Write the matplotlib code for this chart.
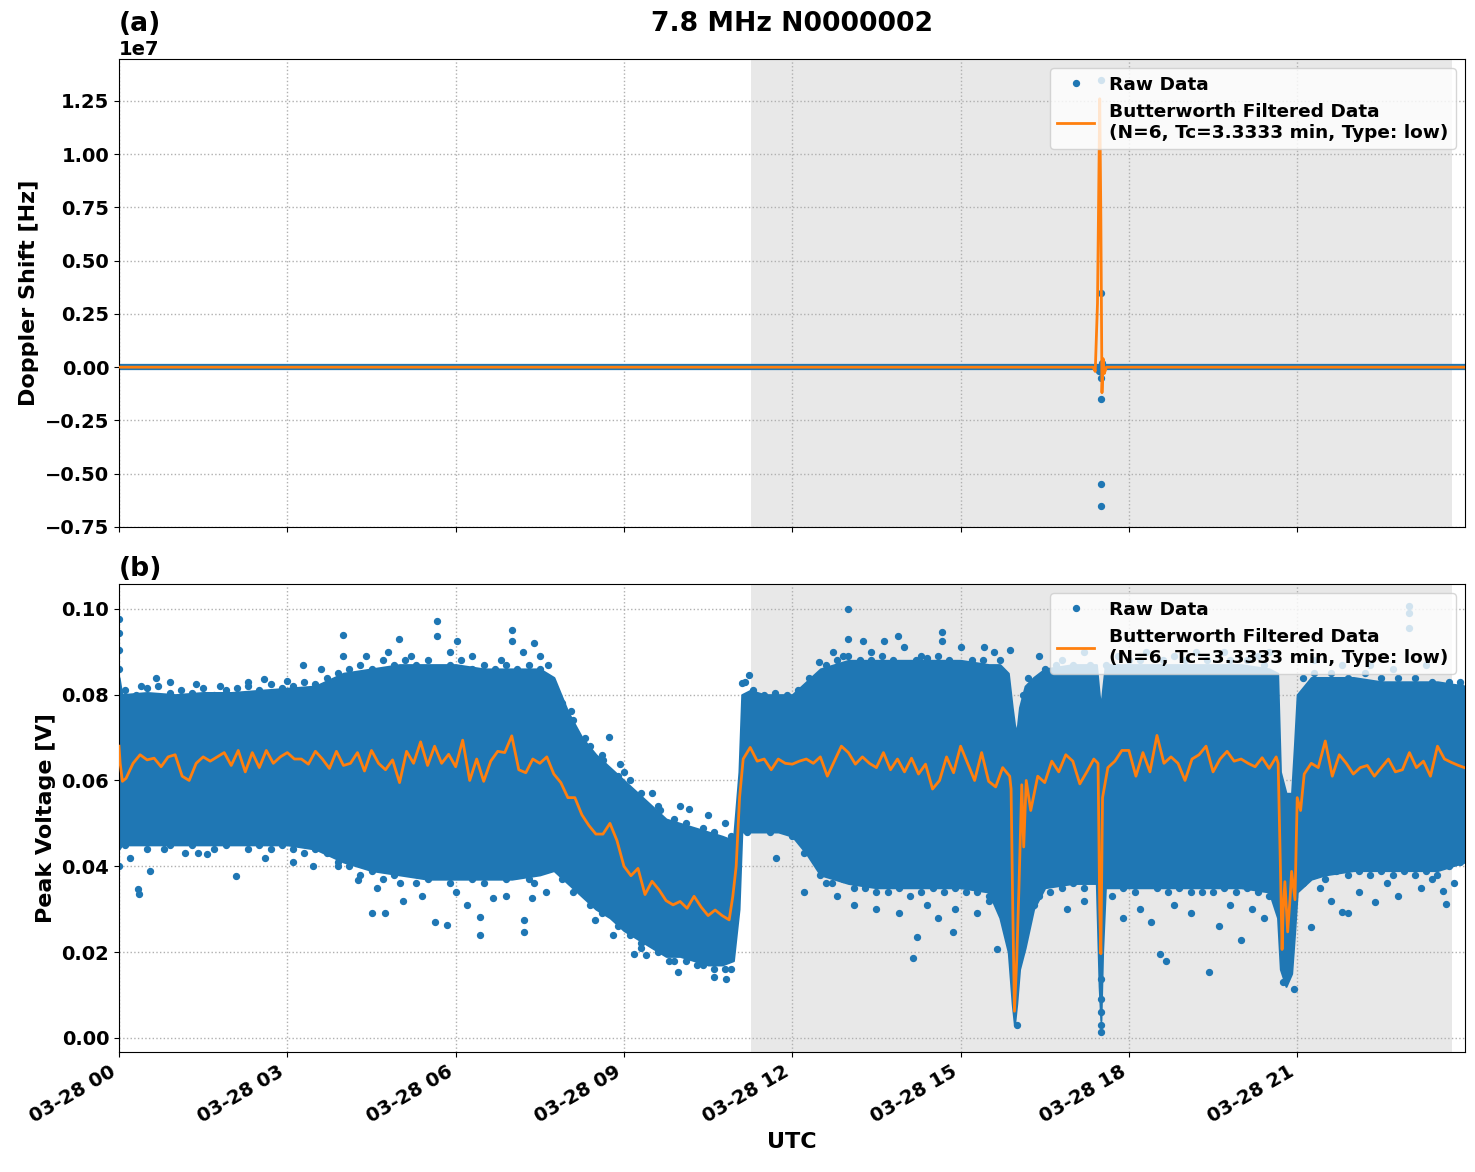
import numpy as np
import pandas as pd
import matplotlib
matplotlib.use('Agg')
import matplotlib.pyplot as plt
import matplotlib.dates as mdates

day = pd.Timestamp('2024-03-28 00:00')
t_end_h = 23.99
night_start_h = 11.27
night_end_h = 23.76

# ---- (a) Doppler shift ----
dop_base_h = [0.0, 23.99]
dop_base_v = [0.0, 0.0]
dop_raw_h = [17.47, 17.50, 17.50, 17.50, 17.50, 17.50, 17.50, 17.52]
dop_raw_v = [-0.02e7, 1.35e7, 0.35e7, -0.05e7, -0.15e7, -0.55e7, -0.65e7, 0.02e7]
dop_filt_h = [0.0, 17.36, 17.40, 17.44, 17.48, 17.50, 17.52, 17.54, 17.56, 17.60, 23.99]
dop_filt_v = [0.0, 0.0, -0.02e7, 0.30e7, 1.26e7, 0.70e7, -0.12e7, 0.04e7, -0.03e7, 0.0, 0.0]

# ---- (b) Peak voltage: dense raw cloud (envelope) ----
band_h = [0.0, 0.05, 0.5, 1.0, 1.5, 2.0, 2.5, 3.0, 3.5, 4.0, 4.5, 5.0, 5.5, 6.0, 6.5, 7.0,
          7.5, 7.75, 8.0, 8.25, 8.5, 8.75, 9.0, 9.25, 9.5, 9.75, 10.0, 10.25, 10.5, 10.75,
          10.95, 11.05, 11.1, 11.25, 11.5, 11.75, 12.0, 12.25, 12.5, 13.0, 13.5, 14.0, 14.5,
          15.0, 15.5, 15.7, 15.85, 15.92, 15.96, 16.0, 16.05, 16.15, 16.3, 16.5, 17.0, 17.42,
          17.47, 17.5, 17.53, 17.58, 18.0, 18.5, 19.0, 19.5, 20.0, 20.5, 20.65, 20.7, 20.8,
          20.9, 20.95, 21.0, 21.25, 21.5, 22.0, 22.5, 23.0, 23.5, 23.99]
band_lo = [0.044, 0.045, 0.045, 0.045, 0.045, 0.045, 0.045, 0.045, 0.044, 0.041, 0.039, 0.038,
           0.037, 0.037, 0.037, 0.037, 0.038, 0.039, 0.036, 0.033, 0.030, 0.028, 0.025, 0.023,
           0.021, 0.019, 0.019, 0.018, 0.017, 0.017, 0.018, 0.030, 0.048, 0.048, 0.048, 0.048,
           0.047, 0.043, 0.038, 0.036, 0.035, 0.035, 0.035, 0.035, 0.034, 0.028, 0.020, 0.008,
           0.003, 0.008, 0.016, 0.021, 0.030, 0.035, 0.036, 0.036, 0.012, 0.004, 0.020, 0.035,
           0.035, 0.035, 0.035, 0.035, 0.035, 0.034, 0.028, 0.016, 0.012, 0.015, 0.024, 0.034,
           0.037, 0.038, 0.039, 0.039, 0.039, 0.039, 0.041]
band_hi = [0.084, 0.080, 0.0805, 0.080, 0.0805, 0.0805, 0.081, 0.0815, 0.082, 0.085, 0.086,
           0.087, 0.087, 0.087, 0.086, 0.086, 0.086, 0.084, 0.076, 0.070, 0.066, 0.063, 0.060,
           0.057, 0.054, 0.051, 0.050, 0.049, 0.048, 0.047, 0.046, 0.062, 0.080, 0.081, 0.080,
           0.080, 0.080, 0.083, 0.086, 0.088, 0.088, 0.088, 0.088, 0.088, 0.087, 0.087, 0.085,
           0.077, 0.073, 0.071, 0.077, 0.082, 0.084, 0.086, 0.087, 0.087, 0.080, 0.077, 0.081,
           0.087, 0.087, 0.087, 0.087, 0.087, 0.087, 0.086, 0.085, 0.062, 0.057, 0.057, 0.068,
           0.080, 0.084, 0.084, 0.084, 0.083, 0.083, 0.083, 0.082]

# raw points along the ragged edges of the cloud
edge_h = [0.1, 0.3, 0.5, 0.7, 0.9, 1.1, 1.3, 1.5, 1.7, 1.9, 2.1, 2.3, 2.5, 2.7, 2.9, 3.1, 3.3,
          3.5, 3.7, 3.9, 4.1, 4.3, 4.5, 4.7, 4.9, 5.1, 5.3, 5.5, 5.7, 5.9, 6.1, 6.3, 6.5, 6.7,
          6.9, 7.1, 7.3, 7.5, 7.65, 7.9, 8.1, 8.4, 8.6, 8.9, 9.1, 9.3, 9.6, 9.9, 10.1, 10.4,
          10.6, 10.9, 11.15, 11.3, 11.5, 11.7, 11.9, 12.1, 12.3, 12.6, 12.8, 13.0, 13.2, 13.4,
          13.6, 13.8, 14.2, 14.4, 14.6, 14.8, 15.2, 15.4, 15.7, 16.2, 16.5, 16.7, 17.0, 17.3,
          17.6, 18.0, 18.2, 18.6, 19.0, 19.4, 19.8, 20.1, 20.4, 21.1, 21.3, 21.6, 21.9, 22.2,
          22.5, 22.8, 23.1, 23.4, 23.7, 23.9,
          0.1, 0.3, 0.5, 0.7, 0.9, 1.1, 1.3, 1.5, 1.7, 1.9, 2.1, 2.3, 2.5, 2.7, 2.9, 3.1, 3.3,
          3.5, 3.7, 3.9, 4.1, 4.3, 4.5, 4.7, 4.9, 5.1, 5.3, 5.5, 5.7, 5.9, 6.1, 6.3, 6.5, 6.7,
          6.9, 7.1, 7.3, 7.5, 7.65, 7.9, 8.1, 8.4, 8.6, 8.9, 9.1, 9.3, 9.6, 9.9, 10.1, 10.4,
          10.6, 10.8, 11.2, 11.4, 11.6, 11.8, 12.0, 12.2, 12.5, 12.7, 12.9, 13.1, 13.3, 13.5,
          13.7, 13.9, 14.1, 14.3, 14.5, 14.7, 14.9, 15.1, 15.3, 15.5, 16.4, 16.6, 16.8, 17.0,
          17.2, 17.7, 17.9, 18.1, 18.3, 18.5, 18.7, 18.9, 19.1, 19.3, 19.5, 19.7, 19.9, 20.1,
          20.3, 20.5, 21.1, 21.3, 21.5, 21.7, 21.9, 22.1, 22.3, 22.5, 22.7, 22.9, 23.1, 23.3,
          23.5, 23.7, 23.9]
edge_v = [0.081, 0.080, 0.0815, 0.082, 0.0805, 0.081, 0.0805, 0.0815, 0.080, 0.081, 0.0815,
          0.082, 0.081, 0.0825, 0.0815, 0.082, 0.083, 0.0825, 0.084, 0.085, 0.086, 0.087, 0.086,
          0.088, 0.087, 0.088, 0.087, 0.088, 0.086, 0.087, 0.088, 0.086, 0.087, 0.086, 0.087,
          0.086, 0.087, 0.086, 0.087, 0.078, 0.074, 0.068, 0.066, 0.061, 0.060, 0.057, 0.054,
          0.051, 0.050, 0.049, 0.048, 0.047, 0.083, 0.081, 0.080, 0.0805, 0.080, 0.081, 0.084,
          0.087, 0.088, 0.089, 0.088, 0.088, 0.089, 0.088, 0.088, 0.0885, 0.089, 0.088, 0.088,
          0.088, 0.088, 0.084, 0.086, 0.087, 0.087, 0.087, 0.087, 0.088, 0.088, 0.088, 0.088,
          0.088, 0.088, 0.088, 0.087, 0.084, 0.085, 0.085, 0.084, 0.085, 0.084, 0.084, 0.084,
          0.083, 0.083, 0.083,
          0.045, 0.046, 0.044, 0.046, 0.045, 0.046, 0.045, 0.046, 0.044, 0.045, 0.046, 0.044,
          0.045, 0.044, 0.045, 0.044, 0.043, 0.044, 0.043, 0.041, 0.040, 0.038, 0.039, 0.037,
          0.038, 0.039, 0.036, 0.037, 0.038, 0.036, 0.038, 0.037, 0.036, 0.038, 0.037, 0.038,
          0.037, 0.039, 0.040, 0.037, 0.034, 0.031, 0.029, 0.026, 0.024, 0.022, 0.020, 0.018,
          0.018, 0.017, 0.016, 0.016, 0.048, 0.049, 0.048, 0.049, 0.047, 0.043, 0.038, 0.036,
          0.037, 0.035, 0.036, 0.034, 0.036, 0.035, 0.036, 0.034, 0.035, 0.034, 0.035, 0.036,
          0.034, 0.033, 0.033, 0.036, 0.035, 0.036, 0.035, 0.036, 0.035, 0.034, 0.036, 0.035,
          0.034, 0.035, 0.034, 0.036, 0.034, 0.035, 0.034, 0.035, 0.034, 0.033, 0.036, 0.038,
          0.037, 0.039, 0.038, 0.039, 0.038, 0.039, 0.038, 0.039, 0.038, 0.039, 0.038, 0.040,
          0.041]

# scattered raw points outside the dense cloud
out_h = [0.0, 0.0, 0.0, 0.0, 0.0, 0.34, 0.36, 0.55, 0.65, 1.17, 1.38, 1.57, 2.08, 2.59, 3.0,
         3.28, 3.46, 4.0, 4.0, 4.26, 4.51, 4.74, 4.99, 5.07, 5.67, 5.67, 5.64, 5.85, 6.03,
         6.44, 6.44, 6.66, 7.0, 7.0, 7.22, 7.22, 7.36, 7.39, 7.61, 8.05, 8.23, 8.49, 8.73,
         8.63, 8.93, 9.17, 9.4, 9.64, 9.96, 10.16, 10.6, 10.82, 11.11, 11.23, 11.71,
         12.99, 12.99, 12.2, 12.47, 12.73, 13.26, 13.63, 13.88, 14.16, 14.23, 14.67, 14.67,
         14.86, 15.42, 15.64, 15.88, 16.12, 16.0, 17.5, 17.5, 17.5, 17.5, 17.5, 18.56,
         18.67, 19.42, 19.99, 20.74, 20.94, 21.24, 21.8, 21.9, 22.39, 22.99, 22.99, 22.99,
         23.6, 23.65, 23.95, 23.91,
         12.6, 12.8, 13.1, 13.3, 13.5, 13.7, 13.9, 14.1, 14.4, 14.6, 14.9, 15.1, 15.3, 15.5,
         16.3, 16.6, 16.9, 17.2, 17.7, 17.9, 18.2, 18.4, 18.8, 19.1, 19.3, 19.6, 19.8, 20.2,
         20.4, 21.4, 21.6, 22.1, 22.6, 22.8, 23.2, 23.4, 23.8,
         12.9, 13.4, 14.0, 14.3, 15.0, 15.6, 16.4, 16.8, 17.2, 17.8, 18.3, 18.8, 19.2, 19.7,
         20.3, 20.5, 21.3, 21.8, 22.3, 22.7, 23.3,
         0.4, 0.9, 1.8, 2.3, 3.6, 4.4, 4.8, 5.2, 5.9, 6.3, 6.8, 7.2, 7.5,
         0.2, 0.8, 1.4, 2.6, 3.1, 3.9, 4.6, 5.0, 5.4, 6.0, 6.2, 6.9, 7.4,
         8.8, 9.3, 9.8, 10.3, 10.9, 8.3, 9.0, 9.5, 10.0, 10.5, 10.8]
out_v = [0.0977, 0.0944, 0.0905, 0.086, 0.040, 0.0347, 0.0336, 0.0388, 0.084, 0.0431, 0.0826,
         0.0429, 0.0378, 0.0837, 0.0833, 0.087, 0.040, 0.094, 0.089, 0.0367, 0.0291, 0.0291,
         0.0929, 0.0318, 0.0972, 0.0936, 0.027, 0.0262, 0.0925, 0.0239, 0.0281, 0.0326, 0.095,
         0.0925, 0.0247, 0.0274, 0.0326, 0.092, 0.034, 0.0762, 0.0359, 0.0274, 0.0702, 0.0648,
         0.0638, 0.0196, 0.0192, 0.053, 0.0153, 0.0533, 0.0142, 0.0138, 0.0828, 0.0847, 0.042,
         0.100, 0.0929, 0.034, 0.0876, 0.090, 0.0925, 0.0926, 0.0936, 0.0187, 0.0235, 0.0946,
         0.0925, 0.0247, 0.0912, 0.0208, 0.0905, 0.080, 0.003, 0.0014, 0.003, 0.006, 0.009,
         0.0138, 0.0196, 0.018, 0.0153, 0.0227, 0.013, 0.0115, 0.0258, 0.0293, 0.029, 0.0316,
         0.1006, 0.099, 0.0956, 0.0343, 0.0312, 0.0479, 0.082,
         0.036, 0.033, 0.031, 0.035, 0.030, 0.034, 0.029, 0.033, 0.031, 0.028, 0.030, 0.034,
         0.029, 0.032, 0.031, 0.034, 0.030, 0.032, 0.033, 0.028, 0.030, 0.027, 0.031, 0.029,
         0.034, 0.026, 0.031, 0.030, 0.028, 0.035, 0.032, 0.034, 0.036, 0.033, 0.035, 0.037,
         0.036,
         0.089, 0.090, 0.091, 0.089, 0.091, 0.090, 0.089, 0.088, 0.090, 0.089, 0.090, 0.089,
         0.090, 0.090, 0.089, 0.090, 0.088, 0.087, 0.087, 0.086, 0.087,
         0.082, 0.083, 0.082, 0.083, 0.086, 0.089, 0.090, 0.089, 0.090, 0.089, 0.088, 0.090,
         0.089,
         0.042, 0.044, 0.043, 0.042, 0.041, 0.040, 0.035, 0.036, 0.033, 0.034, 0.031, 0.033,
         0.036,
         0.024, 0.021, 0.018, 0.017, 0.016, 0.070, 0.062, 0.057, 0.054, 0.052, 0.050]

# Butterworth filtered voltage, every 7.5 min from 00:00
filt_v = [0.0680, 0.0605, 0.0640, 0.0660, 0.0648, 0.0652, 0.0632, 0.0655,
          0.0660, 0.0610, 0.0600, 0.0640, 0.0655, 0.0645, 0.0655, 0.0665,
          0.0635, 0.0670, 0.0620, 0.0665, 0.0630, 0.0670, 0.0640, 0.0655,
          0.0665, 0.0650, 0.0650, 0.0638, 0.0668, 0.0650, 0.0628, 0.0668,
          0.0635, 0.0640, 0.0665, 0.0622, 0.0670, 0.0640, 0.0625, 0.0648,
          0.0595, 0.0668, 0.0640, 0.0690, 0.0635, 0.0680, 0.0640, 0.0661,
          0.0632, 0.0694, 0.0600, 0.0650, 0.0598, 0.0645, 0.0668, 0.0665,
          0.0704, 0.0625, 0.0618, 0.0650, 0.0640, 0.0655, 0.0615, 0.0595,
          0.0560, 0.0560, 0.0520, 0.0495, 0.0475, 0.0475, 0.0500, 0.0460,
          0.0400, 0.0378, 0.0395, 0.0334, 0.0365, 0.0345, 0.0320, 0.0310,
          0.0318, 0.0302, 0.0330, 0.0305, 0.0285, 0.0298, 0.0285, 0.0275,
          0.0400, 0.0650, 0.0677, 0.0645, 0.0650, 0.0625, 0.0650, 0.0640,
          0.0638, 0.0645, 0.0650, 0.0640, 0.0655, 0.0610, 0.0645, 0.0680,
          0.0665, 0.0638, 0.0655, 0.0640, 0.0630, 0.0665, 0.0625, 0.0650,
          0.0620, 0.0652, 0.0615, 0.0638, 0.0580, 0.0600, 0.0655, 0.0618,
          0.0680, 0.0640, 0.0600, 0.0665, 0.0598, 0.0585, 0.0630, 0.0610,
          0.0180, 0.0445, 0.0530, 0.0610, 0.0595, 0.0645, 0.0620, 0.0660,
          0.0645, 0.0592, 0.0620, 0.0650, 0.0196, 0.0630, 0.0645, 0.0670,
          0.0670, 0.0610, 0.0665, 0.0620, 0.0705, 0.0640, 0.0655, 0.0640,
          0.0600, 0.0650, 0.0660, 0.0680, 0.0620, 0.0650, 0.0668, 0.0645,
          0.0650, 0.0640, 0.0632, 0.0653, 0.0628, 0.0655, 0.0300, 0.0330,
          0.0560, 0.0615, 0.0640, 0.0630, 0.0692, 0.0610, 0.0660, 0.0640,
          0.0615, 0.0630, 0.0635, 0.0610, 0.0630, 0.0650, 0.0620, 0.0625,
          0.0665, 0.0630, 0.0645, 0.0610, 0.0680, 0.0650, 0.0642, 0.0635]
# extra filtered samples around the sharp dips
filt_extra_h = [0.02, 0.06, 10.94, 11.06, 15.90, 15.93, 15.96, 16.04, 16.09, 16.17, 17.45,
                17.48, 17.53, 20.66, 20.70, 20.73, 20.78, 20.83, 20.90, 20.96, 21.06, 23.98]
filt_extra_v = [0.0640, 0.0598, 0.0330, 0.0560, 0.0580, 0.0300, 0.0062, 0.0350, 0.0590,
                0.0600, 0.0640, 0.0300, 0.0560, 0.0640, 0.0400, 0.0206, 0.0364, 0.0247,
                0.0388, 0.0322, 0.0530, 0.0630]


def to_time(hours):
    return day + pd.to_timedelta(np.asarray(hours, dtype=float), unit='h')


filt_h = np.concatenate([np.arange(len(filt_v)) * 0.125, filt_extra_h])
filt_all = np.concatenate([filt_v, filt_extra_v])
order = np.argsort(filt_h)
filt_h = filt_h[order]
filt_all = filt_all[order]

plt.rcParams['font.weight'] = 'bold'
plt.rcParams['axes.labelweight'] = 'bold'
plt.rcParams['axes.titleweight'] = 'bold'
plt.rcParams['font.size'] = 16
plt.rcParams['xtick.labelsize'] = 14
plt.rcParams['ytick.labelsize'] = 14

raw_label = 'Raw Data'
filt_label = 'Butterworth Filtered Data\n(N=6, Tc=3.3333 min, Type: low)'
blue = '#1f77b4'
orange = '#ff7f0e'

fig, (ax1, ax2) = plt.subplots(2, 1, sharex=True, figsize=(14.75, 11.72), dpi=100)
fig.subplots_adjust(left=0.0807, right=0.9932, top=0.9497, bottom=0.1024, hspace=0.122)

for ax in (ax1, ax2):
    ax.axvspan(to_time([night_start_h])[0], to_time([night_end_h])[0],
               color='0.5', alpha=0.18, lw=0, zorder=0)
    ax.grid(True, linestyle=':', color='#b0b0b0', lw=1)

# (a)
ax1.plot(to_time(dop_base_h), dop_base_v, '-', color=blue, lw=4.5, zorder=2)
ax1.plot(to_time(dop_raw_h), dop_raw_v, '.', color=blue, ms=8.5, label=raw_label, zorder=2)
ax1.plot(to_time(dop_filt_h), dop_filt_v, '-', color=orange, lw=2, label=filt_label, zorder=3)
ax1.set_ylim(-0.75e7, 1.447e7)
ax1.set_ylabel('Doppler Shift [Hz]')
ax1.yaxis.get_offset_text().set_fontsize(14)
ax1.set_title('(a)', loc='left')
ax1.set_title('7.8 MHz N0000002')
ax1.legend(loc='upper right', fontsize=13.3)

# (b)
ax2.fill_between(to_time(band_h), band_lo, band_hi, color=blue, lw=1.5, zorder=2)
ax2.plot(to_time(edge_h), edge_v, '.', color=blue, ms=8.5, zorder=2)
ax2.plot(to_time(out_h), out_v, '.', color=blue, ms=8.5, label=raw_label, zorder=2)
ax2.plot(to_time(filt_h), filt_all, '-', color=orange, lw=2, label=filt_label, zorder=3)
ax2.set_ylim(-0.0033, 0.1058)
ax2.set_ylabel('Peak Voltage [V]')
ax2.set_xlabel('UTC')
ax2.set_title('(b)', loc='left')
ax2.legend(loc='upper right', fontsize=13.3)

ax2.set_xlim(to_time([0.0])[0], to_time([t_end_h])[0])
ax2.xaxis.set_major_locator(mdates.HourLocator(byhour=range(0, 24, 3)))
ax2.xaxis.set_major_formatter(mdates.DateFormatter('%m-%d %H'))
plt.setp(ax2.get_xticklabels(), rotation=30, ha='right')

fig.savefig('out.png', dpi=100)
